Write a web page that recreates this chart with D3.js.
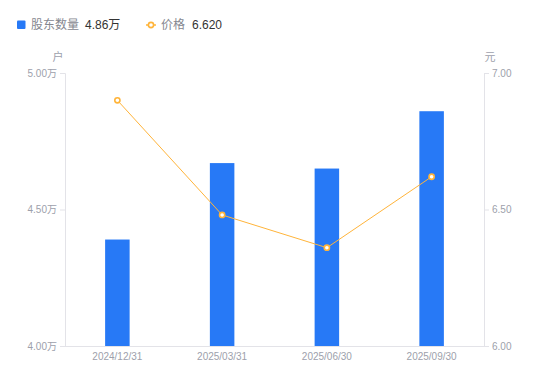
<!DOCTYPE html>
<html><head><meta charset="utf-8">
<script src="https://cdn.jsdelivr.net/npm/d3@7"></script>
<style>
html,body{margin:0;padding:0;background:#fff;}
svg{display:block;font-family:"Liberation Sans",Arial,"Noto Sans CJK SC",sans-serif;}
</style></head>
<body>
<svg id="c" width="550" height="381"></svg>
<script>
const categories = ["2024/12/31","2025/03/31","2025/06/30","2025/09/30"];
const holders = [4.39, 4.67, 4.65, 4.86];   // 万户
const prices = [6.90, 6.48, 6.36, 6.62];    // 元
const leftTicks = [4.00, 4.50, 5.00];
const rightTicks = [6.00, 6.50, 7.00];
const legendHolder = "4.86万";
const legendPrice = "6.620";

const svg = d3.select("#c");
const m = {l:65, r:484, t:73, b:346};
const x = d3.scaleBand().domain(categories).range([m.l, m.r]).paddingInner(0.766).paddingOuter(0.383);
const xc = d3.scaleBand().domain(categories).range([m.l, m.r]);
const yL = d3.scaleLinear().domain([4,5]).range([m.b, m.t]);
const yR = d3.scaleLinear().domain([6,7]).range([m.b, m.t]);
const axisColor = "#e3e3e8", labelColor = "#9d9fab";
const barColor = "#2779f6", lineColor = "#ffb43a";

// axes
const gl = svg.append("g").attr("transform",`translate(${m.l},0)`)
  .call(d3.axisLeft(yL).tickValues(leftTicks).tickSize(5).tickPadding(3).tickFormat(d=>d3.format(".2f")(d)+"万"));
const gr = svg.append("g").attr("transform",`translate(${m.r},0)`)
  .call(d3.axisRight(yR).tickValues(rightTicks).tickSize(5).tickPadding(3).tickFormat(d3.format(".2f")));
const gb = svg.append("g").attr("transform",`translate(0,${m.b})`)
  .call(d3.axisBottom(xc).tickSize(0).tickPadding(7));
[gl,gr,gb].forEach(g=>{
  g.selectAll(".domain").attr("stroke",axisColor);
  g.selectAll(".tick line").attr("stroke",axisColor);
  g.selectAll("text").attr("fill",labelColor).style("font-size","10px").style("font-family",'"Liberation Sans",Arial,"Noto Sans CJK SC",sans-serif');
});
gb.select(".domain").attr("d",`M${m.l},0.5H${m.r}`);

// unit labels
svg.append("text").attr("x",58).attr("y",61).attr("text-anchor","middle").attr("fill",labelColor)
  .style("font-size","11px").style("font-family",'"Noto Sans CJK SC",sans-serif').text("户");
svg.append("text").attr("x",490).attr("y",61).attr("text-anchor","middle").attr("fill",labelColor)
  .style("font-size","11px").style("font-family",'"Noto Sans CJK SC",sans-serif').text("元");

// bars
svg.append("g").selectAll("rect").data(holders).join("rect")
  .attr("x",(d,i)=>x(categories[i]))
  .attr("width",x.bandwidth())
  .attr("y",d=>yL(d))
  .attr("height",d=>m.b-yL(d))
  .attr("fill",barColor);

// line
const line = d3.line().x((d,i)=>xc(categories[i])+xc.bandwidth()/2).y(d=>yR(d));
svg.append("path").datum(prices).attr("d",line).attr("fill","none").attr("stroke",lineColor).attr("stroke-width",1);
svg.append("g").selectAll("circle").data(prices).join("circle")
  .attr("cx",(d,i)=>xc(categories[i])+xc.bandwidth()/2)
  .attr("cy",d=>yR(d)).attr("r",2.6)
  .attr("fill","#fff").attr("stroke",lineColor).attr("stroke-width",1.6);

// legend
const lg = svg.append("g");
lg.append("rect").attr("x",17).attr("y",20.5).attr("width",8.5).attr("height",8.5).attr("rx",1).attr("fill",barColor);
lg.append("text").attr("x",31).attr("y",29).attr("fill","#85878f").style("font-size","12px")
  .style("font-family",'"Noto Sans CJK SC",sans-serif').text("股东数量");
lg.append("text").attr("x",85).attr("y",29).attr("fill","#333").style("font-size","12px").text(legendHolder);
lg.append("line").attr("x1",146).attr("x2",156).attr("y1",25).attr("y2",25).attr("stroke",lineColor).attr("stroke-width",1.5);
lg.append("circle").attr("cx",151).attr("cy",25).attr("r",2.6).attr("fill","#fff").attr("stroke",lineColor).attr("stroke-width",1.6);
lg.append("text").attr("x",161).attr("y",29).attr("fill","#85878f").style("font-size","12px")
  .style("font-family",'"Noto Sans CJK SC",sans-serif').text("价格");
lg.append("text").attr("x",192).attr("y",29).attr("fill","#333").style("font-size","12px").text(legendPrice);
</script>
</body></html>
